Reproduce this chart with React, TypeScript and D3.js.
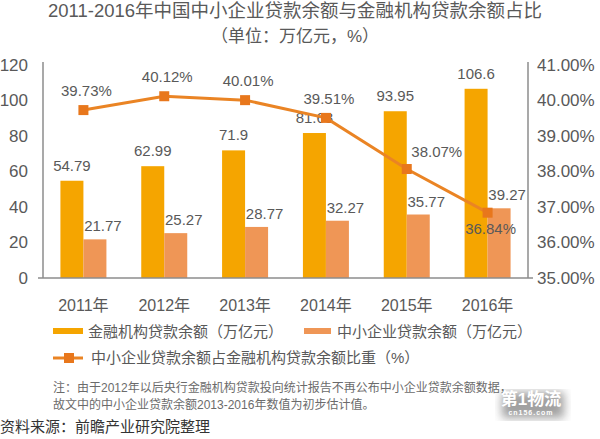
import React, { useRef, useEffect } from 'react';
import * as d3 from 'd3';

const years = ['2011年', '2012年', '2013年', '2014年', '2015年', '2016年'];
const bankLoans = [54.79, 62.99, 71.9, 81.68, 93.95, 106.6];
const smeLoans = [21.77, 25.27, 28.77, 32.27, 35.77, 39.27];
const shareRatio = [39.73, 40.12, 40.01, 39.51, 38.07, 36.84];
const leftTicks = [0, 20, 40, 60, 80, 100, 120];
const rightTicks = [35, 36, 37, 38, 39, 40, 41];
// where each ratio label sits relative to its point
const ratioLabelPos = ['above', 'above', 'above', 'above', 'right', 'below'];

const W = 600;
const H = 439;
const FONT = '"Liberation Sans", Arial, "Noto Sans CJK SC", sans-serif';
const GOLD = '#F5A500';
const PEACH = '#EF9656';
const LINE = '#EA8424';
const MARK = '#E8771C';
const TEXT = '#595959';

const App: React.FC = () => {
	const svgRef = useRef<SVGSVGElement | null>(null);

	const left = 43;
	const right = 528;
	const top = 65;
	const bottom = 278;

	useEffect(() => {
		if (!svgRef.current) return;
		const svg = d3.select(svgRef.current)
			.attr('width', W)
			.attr('height', H)
			.attr('viewBox', [0, 0, W, H].join(' '))
			.style('font-family', FONT);

		svg.append('rect').attr('width', W).attr('height', H).attr('fill', '#fff');

		const x = d3.scaleBand<string>().domain(years).range([left, right]);
		const y = d3.scaleLinear().domain([0, 120]).range([bottom, top]);
		const y2 = d3.scaleLinear().domain([35, 41]).range([bottom, top]);
		const barW = 23;

		// title
		svg.append('text')
			.attr('x', 295).attr('y', 17)
			.attr('text-anchor', 'middle')
			.attr('font-size', 18.5)
			.attr('fill', TEXT)
			.text('2011-2016年中国中小企业贷款余额与金融机构贷款余额占比');
		svg.append('text')
			.attr('x', 295).attr('y', 42)
			.attr('text-anchor', 'middle')
			.attr('font-size', 17)
			.attr('fill', TEXT)
			.text('（单位：万亿元，%）');

		// left axis labels
		svg.append('g')
			.selectAll('text')
			.data(leftTicks)
			.join('text')
			.attr('x', 28)
			.attr('y', d => y(d))
			.attr('dy', '0.35em')
			.attr('text-anchor', 'end')
			.attr('font-size', 17)
			.attr('fill', TEXT)
			.text(d => d);

		// right axis labels
		svg.append('g')
			.selectAll('text')
			.data(rightTicks)
			.join('text')
			.attr('x', 537)
			.attr('y', d => y2(d))
			.attr('dy', '0.35em')
			.attr('font-size', 17)
			.attr('fill', TEXT)
			.text(d => d.toFixed(2) + '%');

		// bars
		svg.append('g')
			.selectAll('rect')
			.data(bankLoans)
			.join('rect')
			.attr('x', (d, i) => (x(years[i]) as number) + x.bandwidth() / 2 - barW)
			.attr('y', d => y(d))
			.attr('width', barW)
			.attr('height', d => bottom - y(d))
			.attr('fill', GOLD);

		svg.append('g')
			.selectAll('rect')
			.data(smeLoans)
			.join('rect')
			.attr('x', (d, i) => (x(years[i]) as number) + x.bandwidth() / 2)
			.attr('y', d => y(d))
			.attr('width', barW)
			.attr('height', d => bottom - y(d))
			.attr('fill', PEACH);

		// axes lines
		const axisColor = '#8c8c8c';
		svg.append('line')
			.attr('x1', left - 5).attr('x2', right + 5)
			.attr('y1', bottom).attr('y2', bottom)
			.attr('stroke', axisColor).attr('stroke-width', 1.5);
		svg.append('line')
			.attr('x1', left).attr('x2', left)
			.attr('y1', top - 3).attr('y2', bottom)
			.attr('stroke', axisColor).attr('stroke-width', 1.5);
		svg.append('line')
			.attr('x1', right).attr('x2', right)
			.attr('y1', top - 3).attr('y2', bottom)
			.attr('stroke', axisColor).attr('stroke-width', 1.5);

		// bar value labels
		svg.append('g')
			.selectAll('text')
			.data(bankLoans)
			.join('text')
			.attr('x', (d, i) => (x(years[i]) as number) + x.bandwidth() / 2 - barW / 2)
			.attr('y', d => y(d) - 10)
			.attr('text-anchor', 'middle')
			.attr('font-size', 15)
			.attr('fill', TEXT)
			.text(d => d);

		svg.append('g')
			.selectAll('text')
			.data(smeLoans)
			.join('text')
			.attr('x', (d, i) => (x(years[i]) as number) + x.bandwidth() / 2 + barW / 2 + 8)
			.attr('y', d => y(d) - 8)
			.attr('text-anchor', 'middle')
			.attr('font-size', 15)
			.attr('fill', TEXT)
			.text(d => d);

		// ratio line
		const cx = (i: number) => (x(years[i]) as number) + x.bandwidth() / 2;
		const line = d3.line<number>()
			.x((d, i) => cx(i))
			.y(d => y2(d));
		svg.append('path')
			.attr('d', line(shareRatio))
			.attr('fill', 'none')
			.attr('stroke', LINE)
			.attr('stroke-width', 3);
		svg.append('g')
			.selectAll('rect')
			.data(shareRatio)
			.join('rect')
			.attr('x', (d, i) => cx(i) - 5)
			.attr('y', d => y2(d) - 5)
			.attr('width', 10)
			.attr('height', 10)
			.attr('fill', MARK);

		svg.append('g')
			.selectAll('text')
			.data(shareRatio)
			.join('text')
			.attr('x', (d, i) => cx(i) + (ratioLabelPos[i] === 'right' ? 30 : 3))
			.attr('y', (d, i) => y2(d) + (ratioLabelPos[i] === 'below' ? 21 : ratioLabelPos[i] === 'right' ? -12 : -14))
			.attr('text-anchor', 'middle')
			.attr('font-size', 15)
			.attr('fill', TEXT)
			.text(d => d.toFixed(2) + '%');

		// x labels
		svg.append('g')
			.selectAll('text')
			.data(years)
			.join('text')
			.attr('x', d => (x(d) as number) + x.bandwidth() / 2)
			.attr('y', 305)
			.attr('dy', '0.35em')
			.attr('text-anchor', 'middle')
			.attr('font-size', 16)
			.attr('fill', TEXT)
			.text(d => d);

		// legend
		const lg = svg.append('g').attr('font-size', 15).attr('fill', TEXT);
		lg.append('rect').attr('x', 53).attr('y', 328).attr('width', 30).attr('height', 6).attr('fill', GOLD);
		lg.append('text').attr('x', 88).attr('y', 332).attr('dy', '0.35em').text('金融机构贷款余额（万亿元）');
		lg.append('rect').attr('x', 304).attr('y', 328).attr('width', 27).attr('height', 6).attr('fill', PEACH);
		lg.append('text').attr('x', 337).attr('y', 332).attr('dy', '0.35em').text('中小企业贷款余额（万亿元）');
		lg.append('line').attr('x1', 53).attr('x2', 83).attr('y1', 358).attr('y2', 358)
			.attr('stroke', LINE).attr('stroke-width', 3);
		lg.append('rect').attr('x', 64).attr('y', 353).attr('width', 10).attr('height', 10).attr('fill', MARK);
		lg.append('text').attr('x', 91).attr('y', 358).attr('dy', '0.35em').text('中小企业贷款余额占金融机构贷款余额比重（%）');

		// note
		const note = svg.append('g').attr('font-size', 12).attr('fill', '#6b6b6b');
		note.append('text').attr('x', 53).attr('y', 388).attr('dy', '0.35em')
			.text('注：由于2012年以后央行金融机构贷款投向统计报告不再公布中小企业贷款余额数据，');
		note.append('text').attr('x', 53).attr('y', 405).attr('dy', '0.35em')
			.text('故文中的中小企业贷款余额2013-2016年数值为初步估计值。');

		// source
		svg.append('text')
			.attr('x', 0).attr('y', 427).attr('dy', '0.35em')
			.attr('font-size', 15)
			.attr('fill', '#333')
			.text('资料来源：前瞻产业研究院整理');

		// watermark
		const defs = svg.append('defs');
		defs.append('filter').attr('id', 'wmblur')
			.append('feGaussianBlur').attr('stdDeviation', 5);
		svg.append('rect')
			.attr('x', 502).attr('y', 392).attr('width', 62).attr('height', 26)
			.attr('fill', '#555').attr('opacity', 0.55).attr('filter', 'url(#wmblur)');
		svg.append('text')
			.attr('x', 531).attr('y', 405)
			.attr('text-anchor', 'middle')
			.attr('font-size', 17).attr('font-weight', 'bold')
			.attr('fill', '#fff')
			.text('第1物流');
		svg.append('text')
			.attr('x', 531).attr('y', 415)
			.attr('text-anchor', 'middle')
			.attr('font-size', 7).attr('font-weight', 'bold')
			.attr('letter-spacing', 1)
			.attr('fill', '#fff')
			.text('cn156.com');

		return () => { svg.selectAll('*').remove(); };
	}, []);

	return (<svg ref={svgRef} style={{ position: 'absolute', left: 0, top: 0 }} />);
};

export default App;
